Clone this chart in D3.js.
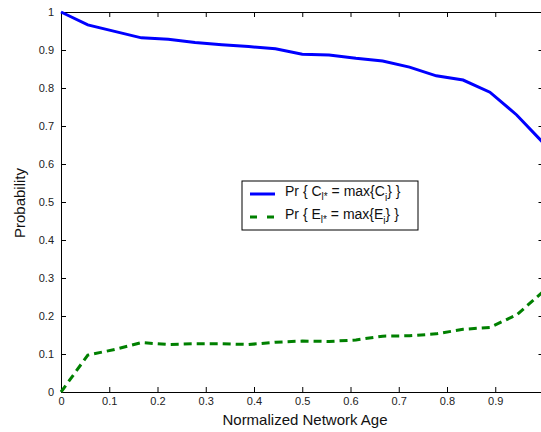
<!DOCTYPE html>
<html>
<head>
<meta charset="utf-8">
<script src="https://cdn.jsdelivr.net/npm/d3@7"></script>
<style>
  body { margin: 0; background: #fff; }
  svg { display: block; font-family: "Liberation Sans", Arial, sans-serif; }
</style>
</head>
<body>
<svg width="541" height="432"></svg>
<script>
// network age, sampled at k/18
const ages = d3.range(19).map(k => k / 18);
const probC = [1.0, 0.966, 0.949, 0.932, 0.928, 0.920, 0.914, 0.909, 0.903, 0.889,
               0.887, 0.878, 0.871, 0.855, 0.832, 0.821, 0.789, 0.729, 0.655];
const probE = [0.0, 0.097, 0.112, 0.130, 0.125, 0.127, 0.127, 0.125, 0.131, 0.134,
               0.133, 0.137, 0.147, 0.148, 0.153, 0.165, 0.170, 0.203, 0.265];
const xTicks = [0, 0.1, 0.2, 0.3, 0.4, 0.5, 0.6, 0.7, 0.8, 0.9];
const yTicks = [0, 0.1, 0.2, 0.3, 0.4, 0.5, 0.6, 0.7, 0.8, 0.9, 1];

const svg = d3.select("svg");
const mLeft = 61, mRight = 543.5, mTop = 12, mBottom = 392;

const x = d3.scaleLinear().domain([0, 1]).range([mLeft, mRight]);
const y = d3.scaleLinear().domain([0, 1]).range([mBottom, mTop]);

const fmt = d => d === 0 ? "0" : d === 1 ? "1" : d3.format(".1f")(d);

// axes (ticks point inward, MATLAB style)
function styleAxis(g) {
    g.selectAll("path").attr("stroke", "#000").attr("stroke-width", 1);
    g.selectAll("line").attr("stroke", "#000");
    g.selectAll("text").attr("font-size", 11).attr("fill", "#222")
        .attr("font-family", "Liberation Sans, Arial, sans-serif");
}

svg.append("g").attr("transform", `translate(0,${mBottom})`)
    .call(d3.axisBottom(x).tickValues(xTicks).tickFormat(fmt).tickSizeInner(-5).tickSizeOuter(0).tickPadding(5))
    .call(styleAxis);
svg.append("g").attr("transform", `translate(0,${mTop})`)
    .call(d3.axisTop(x).tickValues(xTicks).tickFormat("").tickSizeInner(-5).tickSizeOuter(0))
    .call(styleAxis);
svg.append("g").attr("transform", `translate(${mLeft},0)`)
    .call(d3.axisLeft(y).tickValues(yTicks).tickFormat(fmt).tickSizeInner(-5).tickSizeOuter(0).tickPadding(7))
    .call(styleAxis);
svg.append("g").attr("transform", `translate(${mRight},0)`)
    .call(d3.axisRight(y).tickValues(yTicks).tickFormat("").tickSizeInner(-5).tickSizeOuter(0))
    .call(styleAxis);

// lines
const line = d3.line().x((d, i) => x(ages[i])).y(d => y(d));

svg.append("path")
    .attr("d", line(probC))
    .attr("fill", "none")
    .attr("stroke", "#0000ff")
    .attr("stroke-width", 3);

svg.append("path")
    .attr("d", line(probE))
    .attr("fill", "none")
    .attr("stroke", "#008000")
    .attr("stroke-width", 3)
    .attr("stroke-dasharray", "8,5");

// axis labels
svg.append("text")
    .attr("x", 305).attr("y", 425)
    .attr("text-anchor", "middle")
    .attr("font-size", 15)
    .attr("fill", "#111")
    .text("Normalized Network Age");

svg.append("text")
    .attr("transform", `translate(25,203) rotate(-90)`)
    .attr("text-anchor", "middle")
    .attr("font-size", 15)
    .attr("fill", "#111")
    .text("Probability");

// legend
const lg = svg.append("g").attr("transform", "translate(242,181)");
lg.append("rect")
    .attr("width", 176).attr("height", 49)
    .attr("fill", "#fff").attr("stroke", "#000").attr("stroke-width", 1);

const legendItems = [
    { color: "#0000ff", dash: null, letter: "C", sub: "i" },
    { color: "#008000", dash: "7,10", letter: "E", sub: "i" }
];
legendItems.forEach((d, i) => {
    const cy = 13 + i * 23;
    lg.append("line")
        .attr("x1", 8).attr("x2", 33).attr("y1", cy).attr("y2", cy)
        .attr("stroke", d.color).attr("stroke-width", 3)
        .attr("stroke-dasharray", d.dash);
    const t = lg.append("text")
        .attr("x", 43).attr("y", cy + 2)
        .attr("font-size", 14).attr("fill", "#111");
    t.append("tspan").text(`Pr { ${d.letter}`);
    t.append("tspan").attr("dy", 4).attr("font-size", 10).text("l*");
    t.append("tspan").attr("dy", -4).text(` = max{${d.letter}`);
    t.append("tspan").attr("dy", 5).attr("font-size", 10).text(d.sub);
    t.append("tspan").attr("dy", -5).text("} }");
});
</script>
</body>
</html>
